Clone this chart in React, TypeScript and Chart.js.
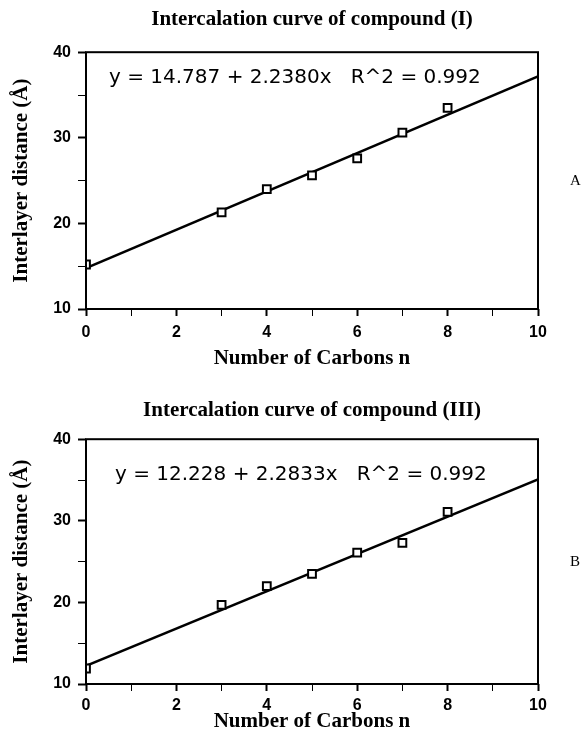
import React, { useEffect, useRef } from 'react';
import { Chart, registerables } from 'chart.js';

Chart.register(...registerables);

// ---- data ----
const carbonsN = [0, 3, 4, 5, 6, 7, 8];
const distanceI = [15.2, 21.3, 24.0, 25.6, 27.6, 30.6, 33.5];
const distanceIII = [11.9, 19.7, 22.0, 23.5, 26.1, 27.3, 31.1];
const fitX = [0, 10];
const fitYI = [14.787, 37.167];
const fitYIII = [12.228, 35.061];
const xTickLabels = [0, 2, 4, 6, 8, 10];
const yTickLabels = [10, 20, 30, 40];
const titleI = 'Intercalation curve of compound (I)';
const titleIII = 'Intercalation curve of compound (III)';
const equationI = 'y = 14.787 + 2.2380x   R^2 = 0.992';
const equationIII = 'y = 12.228 + 2.2833x   R^2 = 0.992';
const xAxisTitle = 'Number of Carbons n';
const yAxisTitle = 'Interlayer distance (Å)';

type PanelProps = {
  values: number[];
  fitY: number[];
  title: string;
  equation: string;
  label: string;
  height: number;
  titlePad: { top: number; bottom: number };
  xScaleHeight: number;
  xTitlePadBottom: number;
  xTickPad: number;
  eqOffset: { dx: number; dy: number };
};

const serifBold = { family: 'Liberation Serif', size: 21, weight: 'bold', lineHeight: 1.2 };
const tickFont = { family: 'Liberation Sans', size: 16, weight: 'bold' };

function Panel(p: PanelProps) {
  const ref = useRef<HTMLCanvasElement | null>(null);
  useEffect(() => {
    if (!ref.current) return;
    const framePlugin = {
      id: 'frameAndText',
      afterDraw(chart: any) {
        const { ctx, chartArea } = chart;
        const { left, top, right, bottom } = chartArea;
        ctx.save();
        ctx.strokeStyle = '#000';
        ctx.lineWidth = 2;
        ctx.strokeRect(left, top, right - left, bottom - top);
        ctx.fillStyle = '#000';
        ctx.textBaseline = 'middle';
        ctx.textAlign = 'left';
        ctx.font = '20px "DejaVu Sans"';
        ctx.fillText(p.equation, left + p.eqOffset.dx, top + p.eqOffset.dy);
        ctx.font = '15px "Liberation Serif"';
        ctx.fillText(p.label, right + 32, (top + bottom) / 2);
        ctx.restore();
      },
    };
    const chart = new Chart(ref.current, {
      type: 'scatter',
      data: {
        datasets: [
          {
            data: carbonsN.map((x, i) => ({ x, y: p.values[i] })),
            pointStyle: 'rect',
            pointRadius: 5.5,
            pointBorderWidth: 2,
            pointBackgroundColor: '#fff',
            pointBorderColor: '#000',
            showLine: false,
            order: 1,
          },
          {
            data: fitX.map((x, i) => ({ x, y: p.fitY[i] })),
            showLine: true,
            borderColor: '#000',
            borderWidth: 2.5,
            pointRadius: 0,
            order: 2,
          },
        ],
      },
      options: {
        animation: false,
        responsive: false,
        devicePixelRatio: 1,
        layout: { padding: { left: 0, right: 44, top: 0, bottom: 0 } },
        plugins: {
          legend: { display: false },
          tooltip: { enabled: false },
          title: {
            display: true,
            text: p.title,
            fullSize: false,
            color: '#000',
            font: serifBold,
            padding: p.titlePad,
          },
        },
        scales: {
          x: {
            type: 'linear',
            min: 0,
            max: 10,
            afterFit(scale: any) {
              scale.height = p.xScaleHeight;
            },
            ticks: {
              stepSize: 1,
              autoSkip: false,
              maxRotation: 0,
              padding: p.xTickPad,
              color: '#000',
              font: tickFont,
              callback: (v: any) => (xTickLabels.includes(Number(v)) ? String(v) : ''),
            },
            grid: {
              drawOnChartArea: false,
              drawTicks: true,
              tickLength: 7,
              tickColor: '#000',
              tickWidth: (c: any) => (c.tick && xTickLabels.includes(c.tick.value) ? 2 : 1),
            },
            border: { display: false },
            title: {
              display: true,
              text: xAxisTitle,
              color: '#000',
              font: serifBold,
              padding: { top: 0, bottom: p.xTitlePadBottom },
            },
          },
          y: {
            type: 'linear',
            min: 10,
            max: 40,
            afterFit(scale: any) {
              scale.width = 86;
            },
            ticks: {
              stepSize: 5,
              autoSkip: false,
              padding: 7,
              color: '#000',
              font: tickFont,
              callback: (v: any) => (yTickLabels.includes(Number(v)) ? String(v) : ''),
            },
            grid: {
              drawOnChartArea: false,
              drawTicks: true,
              tickLength: 8,
              tickColor: '#000',
              tickWidth: (c: any) => (c.tick && yTickLabels.includes(c.tick.value) ? 2 : 1),
            },
            border: { display: false },
            title: {
              display: true,
              text: yAxisTitle,
              color: '#000',
              font: serifBold,
              padding: { top: 9, bottom: 0 },
            },
          },
        },
      },
      plugins: [framePlugin],
    } as any);
    return () => chart.destroy();
  }, []);
  return (
    <canvas
      ref={ref}
      width={582}
      height={p.height}
      style={{ display: 'block', width: 582, height: p.height }}
    />
  );
}

export default function App() {
  return (
    <div
      style={{
        position: 'absolute',
        left: 0,
        top: 0,
        width: 582,
        height: 734,
        background: '#fff',
      }}
    >
      <Panel
        values={distanceI}
        fitY={fitYI}
        title={titleI}
        equation={equationI}
        label="A"
        height={375}
        titlePad={{ top: 7, bottom: 20 }}
        xScaleHeight={66}
        xTitlePadBottom={4}
        xTickPad={7}
        eqOffset={{ dx: 23, dy: 26 }}
      />
      <div style={{ height: 5 }} />
      <Panel
        values={distanceIII}
        fitY={fitYIII}
        title={titleIII}
        equation={equationIII}
        label="B"
        height={354}
        titlePad={{ top: 18, bottom: 16 }}
        xScaleHeight={50}
        xTitlePadBottom={0}
        xTickPad={5}
        eqOffset={{ dx: 29, dy: 36 }}
      />
    </div>
  );
}
